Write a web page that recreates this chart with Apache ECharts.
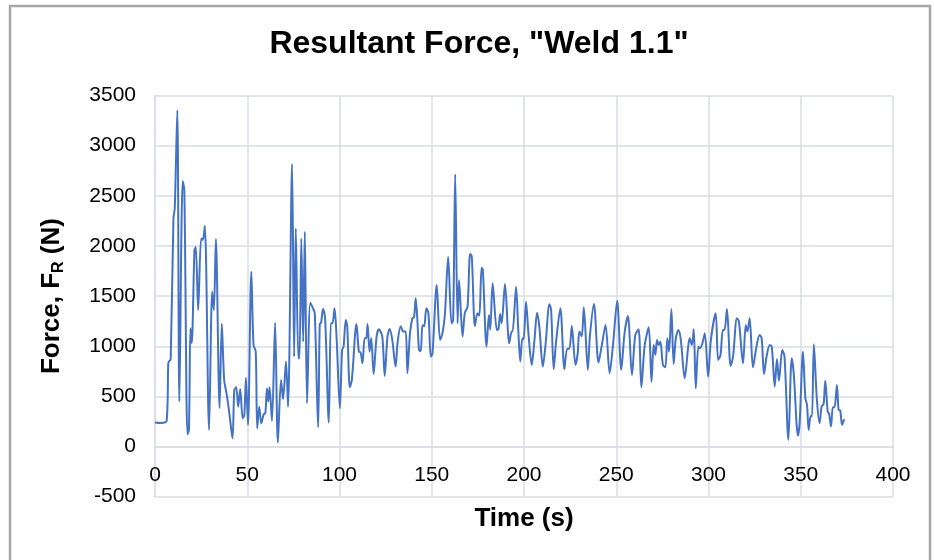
<!DOCTYPE html>
<html>
<head>
<meta charset="utf-8">
<title>Resultant Force, "Weld 1.1"</title>
<script src="https://cdn.jsdelivr.net/npm/echarts@6/dist/echarts.min.js"></script>
<style>
  html, body { margin: 0; padding: 0; background: #fff; }
  #forceChart { width: 934px; height: 560px; }
</style>
</head>
<body>
<div id="forceChart"></div>
<script>
// time (s)
const timeSec = [
  0, 3, 6.3, 7.2, 7.7, 8.5, 10, 10.7, 12.1, 13.2, 15, 15.9, 17.6, 18.4, 19.2, 19.9,
  21.4, 22.1, 23.4, 25, 25.9, 27, 29.3, 31, 31.9, 33, 35, 36.2, 37.5, 38.9, 40.4, 42,
  43, 44, 45.1, 46.2, 47.5, 48.4, 49.3, 50.4, 52.2, 53.4, 54.6, 55.4, 56.5, 57.6, 58.9, 59.8,
  60.7, 61.4, 62.1, 63.4, 65.1, 66.6, 68.3, 69.4, 71, 72.1, 74.3, 75.4, 76.3, 77.7, 78.3, 79.3,
  80.3, 81.2, 82.4, 84.2, 85.6, 86.6, 88.4, 89.3, 90, 91.1, 92.2, 94.2, 95.3, 96.2, 97.3, 98.4,
  100.2, 101.4, 102.2, 103.4, 104.2, 105.6, 106.7, 109.2, 110.5, 111.4, 112.5, 113.6, 114.5, 115.2, 116.3, 117.2,
  118.5, 120.1, 121.4, 123.2, 124.5, 126, 127.2, 128.6, 130.4, 131.5, 133.2, 134.6, 135.9, 136.8, 138.2, 139.5,
  140.4, 141.3, 142.2, 143.1, 144, 145, 145.9, 147.1, 148.2, 149.5, 150.4, 152.7, 154.5, 155.8, 157.1, 158.9,
  160.7, 161.6, 162.7, 164, 164.8, 166.7, 167.9, 169.4, 170.8, 171.7, 173.4, 174.8, 175.8, 177, 177.7, 179.7,
  181, 181.7, 183, 185.3, 186.1, 187.1, 187.9, 189.7, 192, 193.3, 193.8, 195.7, 196.9, 198, 199.1, 199.8,
  201.1, 202.4, 204.2, 205.6, 207.1, 208.3, 210.2, 211.6, 213.8, 214.7, 216.1, 217.4, 219.7, 221.9, 223.4, 224.6,
  225.9, 227.9, 229.1, 230, 231.3, 232.4, 234.6, 235.7, 237.9, 240.4, 242.2, 244.2, 246.4, 248.2, 250.5, 252.7,
  254.5, 256.3, 258.5, 260.3, 262.1, 263.6, 265.4, 267.6, 269.1, 270.3, 271.2, 272.1, 273, 273.9, 275.3, 276.6,
  277.7, 278.6, 279.9, 281.1, 282.3, 283.7, 285, 287.1, 289, 289.8, 291, 292, 293.1, 294.5, 295.4, 296.7,
  298, 299.8, 301.3, 303.9, 305.2, 306.5, 307.8, 308.7, 310, 312, 313.3, 315.4, 316.5, 318.7, 320.2, 321.1,
  322.3, 324.1, 326, 327.7, 328.8, 330.1, 331.5, 333.2, 334.3, 335.9, 337.1, 338.2, 340, 341.2, 343.3, 345.1,
  346.2, 348.5, 349.4, 351.2, 352.5, 353.4, 354.3, 355.4, 356.1, 357.1, 358.7, 360.2, 361.3, 362.4, 363.3, 364.6,
  365.3, 366.4, 367.4, 368.3, 369.6, 370.5, 371.4, 372.4, 373.5
];

// resultant force (N) at each time above
const forceN = [
  240, 235, 255, 830, 850, 870, 2275, 2375, 3353, 448, 2647, 2550, 123, 165, 1180, 1030,
  1960, 1990, 1360, 2075, 2060, 2198, 166, 1544, 1360, 2069, 385, 1225, 664, 515, 316, 83,
  565, 590, 398, 575, 283, 316, 687, 216, 1743, 1013, 946, 183, 398, 232, 322, 332,
  581, 448, 590, 255, 1235, 40, 664, 472, 847, 398, 2816, 896, 2175, 880, 880, 2075,
  1046, 2142, 432, 1434, 1380, 1329, 193, 1222, 1235, 1371, 1280, 239, 1229, 1229, 1378, 1096,
  382, 963, 996, 1262, 1196, 591, 664, 1222, 946, 940, 830, 1080, 1080, 1222, 946, 1080,
  724, 1096, 1169, 1096, 704, 1096, 1172, 1063, 797, 1040, 1200, 1146, 1146, 731, 1129, 1279,
  1290, 1478, 1260, 963, 950, 1212, 1200, 1378, 1330, 896, 930, 1610, 1063, 1130, 1312, 1893,
  1229, 1260, 2716, 1229, 1660, 1096, 1329, 1395, 1920, 1895, 1202, 1329, 1305, 1783, 1760, 996,
  1312, 1166, 1627, 1162, 1168, 1322, 1230, 1620, 1030, 1146, 1146, 1594, 1162, 847, 1080, 1070,
  1444, 1130, 814, 1046, 1335, 1200, 797, 1000, 1418, 1360, 771, 1046, 1378, 771, 975, 975,
  1202, 814, 930, 1146, 1100, 1388, 764, 1096, 1421, 837, 1013, 1212, 731, 1006, 1454, 764,
  1130, 1302, 714, 1110, 1169, 591, 1006, 1189, 647, 1013, 913, 1063, 1013, 1046, 814, 790,
  1080, 946, 1371, 824, 1080, 1162, 1063, 681, 996, 1080, 1013, 1169, 581, 996, 980, 1030,
  1130, 697, 1063, 1329, 864, 913, 1162, 1162, 1371, 804, 897, 1279, 1246, 830, 1212, 1146,
  1279, 790, 996, 1113, 1080, 724, 900, 1013, 996, 598, 874, 657, 963, 896, 67, 880,
  730, 107, 233, 946, 482, 415, 166, 305, 300, 1020, 482, 233, 398, 425, 657, 349,
  332, 199, 392, 392, 614, 365, 359, 216, 273
];

const xTicks = [0, 50, 100, 150, 200, 250, 300, 350, 400];
const yTicks = [-500, 0, 500, 1000, 1500, 2000, 2500, 3000, 3500];

const FONT = '"Liberation Sans", Arial, sans-serif';
const GRID_COLOR = '#d9dce3';

// plot box in px; x axis sits on y = 0, one tick step above the bottom edge
const PLOT = { left: 155, top: 95.5, right: 41, bottom: 63.3 };
const plotH = 560 - PLOT.top - PLOT.bottom;
const zeroOffset = plotH / (yTicks.length - 1) * yTicks.indexOf(0);

const chart = echarts.init(document.getElementById('forceChart'));

chart.setOption({
  backgroundColor: '#fff',
  animation: false,
  graphic: [
    {
      type: 'rect',
      shape: { x: 10, y: 6, width: 920, height: 600 },
      style: { fill: 'none', stroke: '#a6a6a6', lineWidth: 2.5 },
      silent: true
    },
    {
      type: 'text',
      x: 479,
      y: 44,
      style: {
        text: 'Resultant Force, "Weld 1.1"',
        font: 'bold 32px ' + FONT,
        fill: '#000',
        align: 'center',
        verticalAlign: 'middle'
      }
    }
  ],
  grid: {
    left: PLOT.left, right: PLOT.right, top: PLOT.top, bottom: PLOT.bottom,
    outerBoundsMode: 'none',
    containLabel: false
  },
  xAxis: {
    type: 'value',
    min: xTicks[0],
    max: xTicks[xTicks.length - 1],
    interval: xTicks[1] - xTicks[0],
    offset: -zeroOffset,
    name: 'Time (s)',
    nameLocation: 'middle',
    nameGap: 59,
    nameTextStyle: { fontFamily: FONT, fontSize: 26, fontWeight: 'bold', color: '#000' },
    axisLine: { onZero: false, lineStyle: { color: GRID_COLOR, width: 1.5 } },
    axisTick: { show: false },
    axisLabel: { fontFamily: FONT, fontSize: 21, color: '#000', margin: 18, formatter: v => String(v) },
    splitLine: { lineStyle: { color: GRID_COLOR, width: 1.5 } }
  },
  yAxis: {
    type: 'value',
    min: yTicks[0],
    max: yTicks[yTicks.length - 1],
    interval: yTicks[1] - yTicks[0],
    name: '{a|Force, F}{s|R}{a| (N)}',
    nameLocation: 'middle',
    nameGap: 88,
    nameTextStyle: {
      rich: {
        a: { fontFamily: FONT, fontSize: 26, fontWeight: 'bold', color: '#000', lineHeight: 30 },
        s: { fontFamily: FONT, fontSize: 16, fontWeight: 'bold', color: '#000', verticalAlign: 'bottom', lineHeight: 30 }
      }
    },
    axisLine: { show: true, onZero: false, lineStyle: { color: GRID_COLOR, width: 1.5 } },
    axisTick: { show: false },
    axisLabel: { fontFamily: FONT, fontSize: 21, color: '#000', margin: 19, formatter: v => String(v) },
    splitLine: { lineStyle: { color: GRID_COLOR, width: 1.5 } }
  },
  series: [
    {
      name: 'Resultant Force',
      type: 'line',
      data: timeSec.map((t, i) => [t, forceN[i]]),
      smooth: 0.3,
      showSymbol: false,
      lineStyle: { color: '#4472c4', width: 2 },
      itemStyle: { color: '#4472c4' }
    }
  ]
});
</script>
</body>
</html>
